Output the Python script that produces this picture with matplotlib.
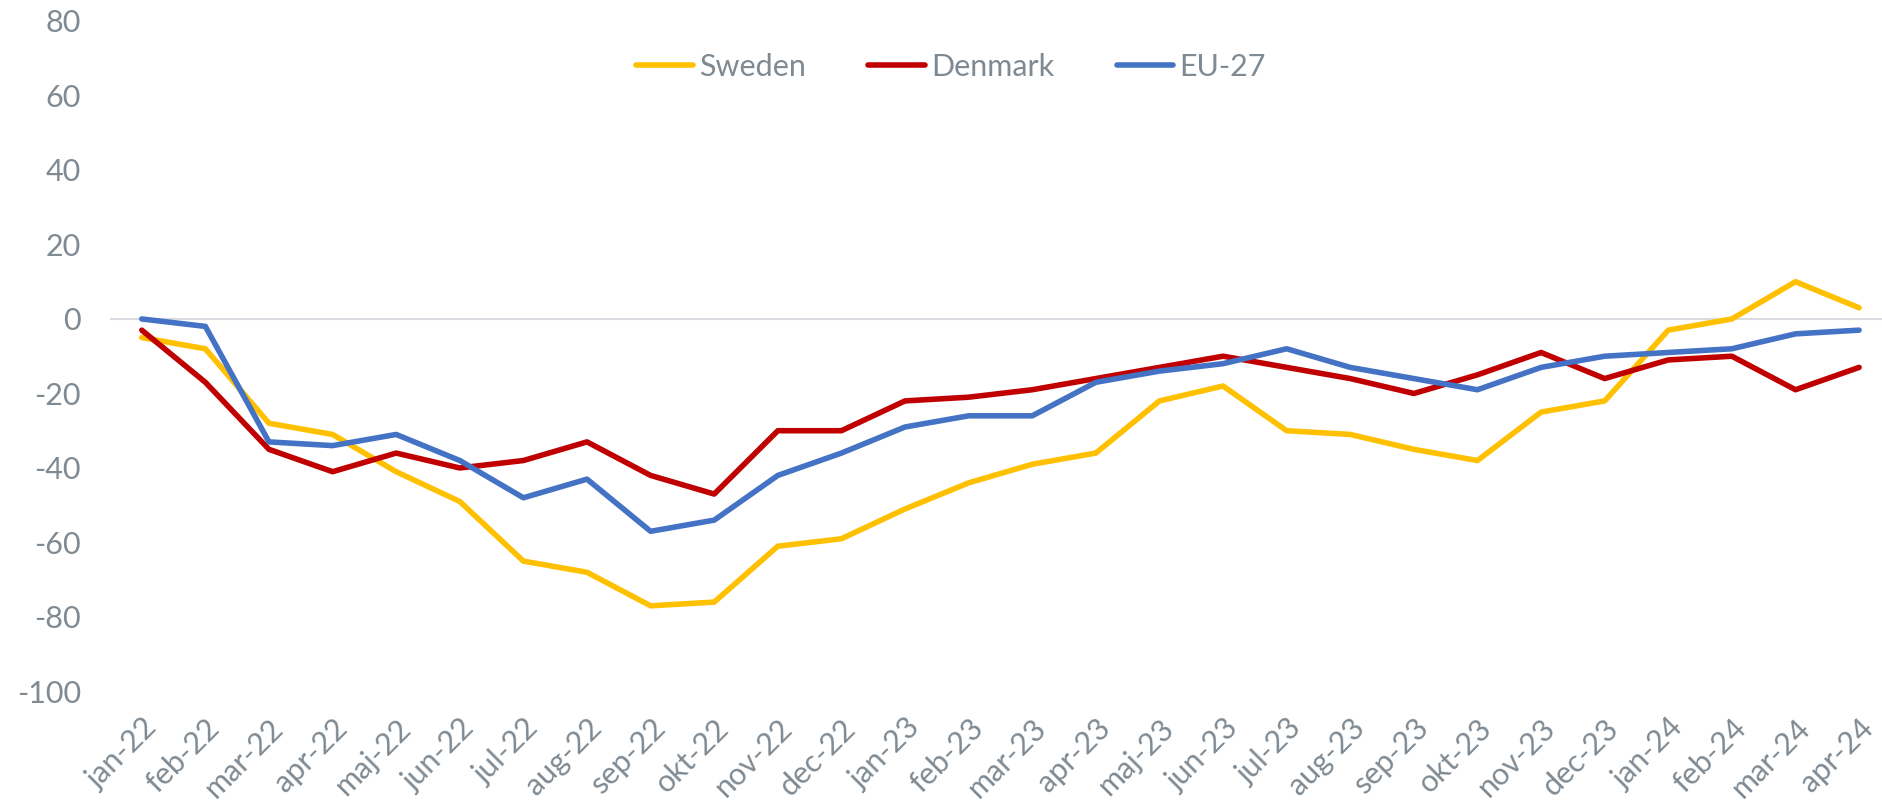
import matplotlib
matplotlib.use("Agg")
import matplotlib.pyplot as plt

months = ["jan-22", "feb-22", "mar-22", "apr-22", "maj-22", "jun-22", "jul-22",
          "aug-22", "sep-22", "okt-22", "nov-22", "dec-22", "jan-23", "feb-23",
          "mar-23", "apr-23", "maj-23", "jun-23", "jul-23", "aug-23", "sep-23",
          "okt-23", "nov-23", "dec-23", "jan-24", "feb-24", "mar-24", "apr-24"]

sweden = [-5, -8, -28, -31, -41, -49, -65, -68, -77, -76, -61, -59, -51, -44,
          -39, -36, -22, -18, -30, -31, -35, -38, -25, -22, -3, 0, 10, 3]
denmark = [-3, -17, -35, -41, -36, -40, -38, -33, -42, -47, -30, -30, -22, -21,
           -19, -16, -13, -10, -13, -16, -20, -15, -9, -16, -11, -10, -19, -13]
eu27 = [0, -2, -33, -34, -31, -38, -48, -43, -57, -54, -42, -36, -29, -26,
        -26, -17, -14, -12, -8, -13, -16, -19, -13, -10, -9, -8, -4, -3]

yticks = [-100, -80, -60, -40, -20, 0, 20, 40, 60, 80]

grey = "#7F8A93"
plt.rcParams["font.family"] = ["Lato", "DejaVu Sans"]

fig = plt.figure(figsize=(18.83, 8.05), dpi=100)
# plot area runs a little past the right edge, like the original
ax = fig.add_axes([0.0584, 0.141, 0.9458, 0.833])

x = list(range(len(months)))
ax.axhline(0, color="#D9DDE1", lw=1.5, zorder=1)
ax.plot(x, sweden, color="#FFC000", lw=4.0, label="Sweden", solid_capstyle="round", zorder=3)
ax.plot(x, denmark, color="#C00000", lw=4.0, label="Denmark", solid_capstyle="round", zorder=3)
ax.plot(x, eu27, color="#4472C4", lw=4.0, label="EU-27", solid_capstyle="round", zorder=3)

ax.set_xlim(-0.5, 27.5)
ax.set_ylim(-100, 80)
ax.set_yticks(yticks)
ax.set_yticklabels([str(v) for v in yticks])
ax.set_xticks(x)
ax.set_xticklabels(months, rotation=45, ha="right", rotation_mode="anchor")
ax.tick_params(axis="y", length=0, pad=21, labelsize=22, labelcolor=grey)
ax.tick_params(axis="x", length=0, pad=16, labelsize=22, labelcolor=grey)
for s in ax.spines.values():
    s.set_visible(False)

fig.legend(loc="center", bbox_to_anchor=(0.505, 0.917), ncol=3, frameon=False,
           fontsize=22, labelcolor=grey, handlelength=1.85, handletextpad=0.2,
           columnspacing=2.05)

fig.savefig("out.png", dpi=100)
